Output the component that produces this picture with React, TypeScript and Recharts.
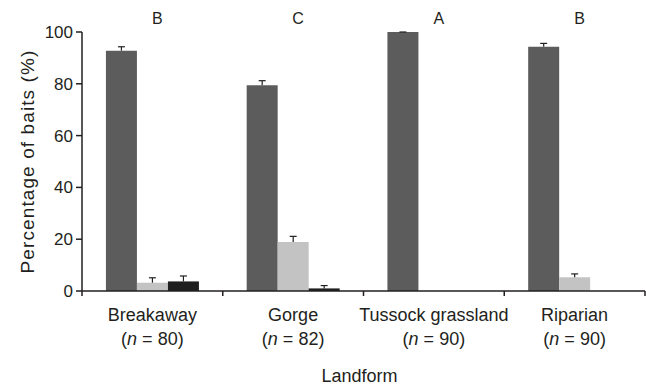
import { BarChart, Bar, XAxis, YAxis, Rectangle } from "recharts";

const categories = ["Breakaway", "Gorge", "Tussock grassland", "Riparian"];
const sampleSizes = [80, 82, 90, 90];
const groupLetters = ["B", "C", "A", "B"];

const darkValues = [92.8, 79.4, 100, 94.3];
const darkErrors = [1.5, 1.8, 0, 1.3];
const lightValues = [3.2, 18.9, 0, 5.3];
const lightErrors: (number | null)[] = [1.9, 2.2, null, 1.3];
const blackValues = [3.7, 1.0, 0, 0];
const blackErrors: (number | null)[] = [2.1, 1.1, null, null];

const yTicks = [0, 20, 40, 60, 80, 100];

const W = 646;
const H = 390;
const margin = { top: 0, right: 1, bottom: 0, left: 0 };
const yAxisWidth = 82;
const band = (W - margin.left - margin.right - yAxisWidth) / categories.length;

const ink = "#231f20";
const font = "'Liberation Sans', Arial, Helvetica, sans-serif";

const data = categories.map((name, i) => ({
  name,
  dark: darkValues[i],
  darkErr: darkErrors[i],
  light: lightValues[i],
  lightErr: lightErrors[i],
  black: blackValues[i],
  blackErr: blackErrors[i],
}));

// bar + one-sided (upper) error whisker
const barWithWhisker = (errKey: string) => (props: any) => {
  const { x, y, width, height, fill, payload, value } = props;
  const v = Array.isArray(value) ? value[1] - value[0] : value;
  const err = payload?.[errKey];
  const pxPerUnit = v > 0 ? height / v : 0;
  const cx = x + width / 2;
  const top = y - (err ?? 0) * pxPerUnit;
  return (
    <g>
      {height > 0 && <Rectangle x={x} y={y} width={width} height={height} fill={fill} />}
      {err != null && v > 0 && (
        <g stroke={ink} strokeWidth={1.2}>
          <line x1={cx} x2={cx} y1={y} y2={top} />
          <line x1={cx - 3.5} x2={cx + 3.5} y1={top} y2={top} />
        </g>
      )}
    </g>
  );
};

const BottomTick = ({ x, y, payload, index }: any) => {
  const i = payload?.index ?? index;
  const left = x - band / 2;
  return (
    <g>
      <line x1={left} x2={left} y1={y} y2={y + 5} stroke={ink} strokeWidth={1.5} />
      {i === categories.length - 1 && (
        <line x1={x + band / 2} x2={x + band / 2} y1={y} y2={y + 5} stroke={ink} strokeWidth={1.5} />
      )}
      <text x={x} y={y + 30} textAnchor="middle" fontSize={18} fill={ink} fontFamily={font}>
        {categories[i]}
      </text>
      <text x={x} y={y + 54} textAnchor="middle" fontSize={18} fill={ink} fontFamily={font}>
        (<tspan fontStyle="italic">n</tspan> = {sampleSizes[i]})
      </text>
    </g>
  );
};

const TopTick = ({ x, y, payload, index }: any) => {
  const i = payload?.index ?? index;
  return (
    <text x={x + 5} y={y - 8} textAnchor="middle" fontSize={16} fill={ink} fontFamily={font}>
      {groupLetters[i]}
    </text>
  );
};

export default function App() {
  return (
    <div>
      <style>{"body{margin:0}"}</style>
      <BarChart width={W} height={H} data={data} margin={margin} barCategoryGap="17%" barGap={0}>
        <XAxis
          xAxisId="top"
          dataKey="name"
          orientation="top"
          height={32}
          axisLine={false}
          tickLine={false}
          tickSize={0}
          tickMargin={0}
          tick={<TopTick />}
        />
        <XAxis
          dataKey="name"
          height={99}
          axisLine={{ stroke: ink, strokeWidth: 1.5 }}
          tickLine={false}
          tickSize={0}
          tickMargin={0}
          tick={<BottomTick />}
          interval={0}
          label={{
            content: ({ viewBox }: any) => (
              <text
                x={viewBox.x + viewBox.width / 2 - 4}
                y={viewBox.y + 91}
                textAnchor="middle"
                fontSize={18}
                fill={ink}
                fontFamily={font}
              >
                Landform
              </text>
            ),
          }}
        />
        <YAxis
          width={yAxisWidth}
          domain={[0, 100]}
          ticks={yTicks}
          axisLine={{ stroke: ink, strokeWidth: 1.5 }}
          tickLine={{ stroke: ink, strokeWidth: 1.5 }}
          tickSize={6}
          tickMargin={3}
          tick={{ fontSize: 17, fill: ink, fontFamily: font }}
          label={{
            content: ({ viewBox }: any) => {
              const cx = viewBox.x + 27;
              const cy = viewBox.y + viewBox.height / 2;
              return (
                <text
                  x={cx}
                  y={cy}
                  transform={`rotate(-90, ${cx}, ${cy})`}
                  textAnchor="middle"
                  dominantBaseline="central"
                  fontSize={19}
                  letterSpacing={1.1}
                  fill={ink}
                  fontFamily={font}
                >
                  Percentage of baits (%)
                </text>
              );
            },
          }}
        />
        <Bar dataKey="dark" fill="#5c5c5c" isAnimationActive={false} shape={barWithWhisker("darkErr")} />
        <Bar dataKey="light" fill="#c3c3c3" isAnimationActive={false} shape={barWithWhisker("lightErr")} />
        <Bar dataKey="black" fill="#1f1f1f" isAnimationActive={false} shape={barWithWhisker("blackErr")} />
      </BarChart>
    </div>
  );
}
